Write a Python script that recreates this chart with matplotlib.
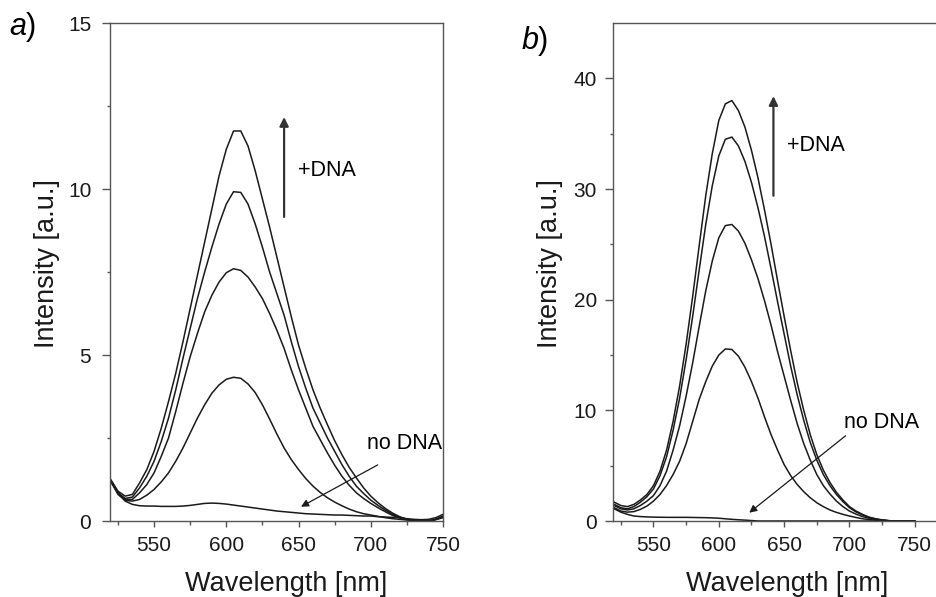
import matplotlib
matplotlib.use("Agg")
import matplotlib.pyplot as plt
from matplotlib.ticker import FixedLocator

plt.rcParams["font.family"] = ["Liberation Sans", "DejaVu Sans"]
plt.rcParams["mathtext.fontset"] = "custom"
plt.rcParams["mathtext.it"] = "Liberation Sans:italic"
plt.rcParams["mathtext.rm"] = "Liberation Sans"

# wavelength grid (nm), 520..750 every 5 nm, shared by all spectra
wl = list(range(520, 755, 5))

# panel a) emission spectra, no DNA -> increasing DNA
a_none = [1.2, 0.85, 0.6, 0.5, 0.46, 0.45, 0.45, 0.44, 0.44, 0.44,
          0.45, 0.47, 0.5, 0.53, 0.54, 0.53, 0.51, 0.48, 0.45, 0.42,
          0.39, 0.36, 0.33, 0.3, 0.28, 0.26, 0.24, 0.22, 0.21, 0.2,
          0.19, 0.18, 0.18, 0.17, 0.16, 0.15, 0.15, 0.13, 0.12, 0.11,
          0.1, 0.07, 0.05, 0.04, 0.05, 0.1, 0.2]
a_1 = [1.2, 0.8, 0.62, 0.6, 0.65, 0.78, 0.95, 1.18, 1.45, 1.8,
       2.2, 2.65, 3.1, 3.5, 3.85, 4.1, 4.27, 4.33, 4.3, 4.13,
       3.87, 3.5, 3.07, 2.62, 2.2, 1.85, 1.55, 1.28, 1.05, 0.86,
       0.7, 0.57, 0.46, 0.36, 0.28, 0.22, 0.18, 0.14, 0.1, 0.07,
       0.05, 0.03, 0.02, 0.01, 0.0, 0.04, 0.1]
a_2 = [1.2, 0.85, 0.65, 0.65, 0.85, 1.1, 1.45, 1.95, 2.5, 3.3,
       4.15, 4.95, 5.65, 6.3, 6.8, 7.2, 7.48, 7.6, 7.55, 7.35,
       7.05, 6.7, 6.25, 5.75, 5.2, 4.55, 3.95, 3.4, 2.85, 2.45,
       2.05, 1.68, 1.35, 1.08, 0.85, 0.68, 0.53, 0.4, 0.28, 0.17,
       0.09, 0.04, 0.02, 0.0, 0.0, 0.05, 0.12]
a_3 = [1.2, 0.85, 0.68, 0.72, 1.0, 1.35, 1.8, 2.4, 3.1, 3.95,
       4.9, 5.8, 6.7, 7.5, 8.25, 8.95, 9.55, 9.92, 9.9, 9.55,
       8.95, 8.25, 7.5, 6.85, 6.2, 5.4, 4.65, 4.0, 3.4, 2.95,
       2.5, 2.1, 1.7, 1.35, 1.05, 0.83, 0.63, 0.47, 0.33, 0.2,
       0.11, 0.05, 0.02, 0.0, 0.0, 0.05, 0.13]
a_4 = [1.25, 0.9, 0.75, 0.8, 1.15, 1.55, 2.1, 2.8, 3.6, 4.45,
       5.4, 6.4, 7.4, 8.4, 9.4, 10.4, 11.2, 11.75, 11.75, 11.3,
       10.55, 9.7, 8.85, 7.95, 7.05, 6.15, 5.3, 4.6, 3.95, 3.4,
       2.9, 2.42, 2.0, 1.62, 1.3, 1.0, 0.75, 0.55, 0.38, 0.24,
       0.13, 0.05, 0.02, 0.0, 0.0, 0.05, 0.15]

# panel b) emission spectra
b_none = [1.1, 0.8, 0.6, 0.45, 0.4, 0.37, 0.35, 0.34, 0.33, 0.33,
          0.33, 0.33, 0.32, 0.31, 0.3, 0.28, 0.25, 0.2, 0.15, 0.11,
          0.08, 0.04, 0.0, 0.0, 0.0, 0.0, 0.0, 0.0, 0.0, 0.0,
          0.0, 0.0, 0.0, 0.0, 0.0, 0.0, 0.0, 0.0, 0.0, 0.0,
          0.0, 0.0, 0.0, 0.0, 0.0, 0.0, 0.0]
b_1 = [1.2, 0.9, 0.8, 0.85, 1.05, 1.35, 1.8, 2.4, 3.2, 4.2,
       5.4, 7.0, 9.0, 11.0, 12.6, 14.0, 15.0, 15.55, 15.5, 14.9,
       13.9, 12.6, 11.1, 9.4, 7.8, 6.4, 5.1, 4.1, 3.3, 2.65,
       2.1, 1.65, 1.3, 1.0, 0.78, 0.6, 0.45, 0.32, 0.2, 0.13,
       0.08, 0.04, 0.02, 0.01, 0.0, 0.0, 0.0]
b_2 = [1.4, 1.1, 1.0, 1.1, 1.4, 1.8, 2.3, 3.2, 4.5, 6.4,
       8.6, 11.3, 14.3, 17.6, 20.8, 23.5, 25.6, 26.7, 26.8, 26.2,
       25.1, 23.6, 21.9, 19.9, 17.7, 15.3, 13.1, 10.9, 8.8, 7.0,
       5.5, 4.2, 3.2, 2.45, 1.8, 1.3, 0.9, 0.62, 0.4, 0.24,
       0.14, 0.07, 0.02, 0.01, 0.0, 0.0, 0.0]
b_3 = [1.5, 1.2, 1.1, 1.3, 1.7, 2.2, 2.9, 4.1, 5.8, 8.2,
       11.1, 14.6, 18.5, 22.7, 26.8, 30.3, 33.0, 34.5, 34.7, 33.9,
       32.5, 30.6, 28.3, 25.7, 22.8, 19.8, 16.9, 14.0, 11.4, 9.1,
       7.1, 5.5, 4.2, 3.2, 2.4, 1.75, 1.2, 0.82, 0.55, 0.32,
       0.18, 0.09, 0.03, 0.01, 0.0, 0.0, 0.0]
b_4 = [1.7, 1.4, 1.3, 1.5, 1.9, 2.4, 3.2, 4.5, 6.4, 9.0,
       12.2, 16.0, 20.3, 24.9, 29.4, 33.2, 36.2, 37.7, 38.0, 37.1,
       35.6, 33.5, 31.0, 28.1, 25.0, 21.7, 18.5, 15.4, 12.5, 10.0,
       7.8, 6.0, 4.6, 3.5, 2.6, 1.9, 1.3, 0.9, 0.6, 0.35,
       0.2, 0.1, 0.03, 0.01, 0.0, 0.0, 0.0]

a_series = [a_none, a_1, a_2, a_3, a_4]
b_series = [b_none, b_1, b_2, b_3, b_4]

x_ticks = [550, 600, 650, 700, 750]
x_minor = [525, 575, 625, 675, 725]
a_yticks = [0, 5, 10, 15]
a_yminor = [2.5, 7.5, 12.5]
b_yticks = [0, 10, 20, 30, 40]
b_yminor = [5, 15, 25, 35]

LINE = "#1a1a1a"
SPINE = "#555555"

fig = plt.figure(figsize=(9.37, 5.97), dpi=100)
ax_a = fig.add_axes([0.1174, 0.1273, 0.3554, 0.834])
ax_b = fig.add_axes([0.6542, 0.1273, 0.3458, 0.834])


def style(ax, xlim, ylim, yticks, yminor, xlab_x, ylab_x, ypad):
    ax.set_xlim(*xlim)
    ax.set_ylim(*ylim)
    ax.set_xticks(x_ticks)
    ax.xaxis.set_minor_locator(FixedLocator(x_minor))
    ax.set_yticks(yticks)
    ax.yaxis.set_minor_locator(FixedLocator(yminor))
    ax.tick_params(which="both", direction="out", colors=SPINE, labelcolor="#1a1a1a",
                   labelsize=15, width=1.0)
    ax.tick_params(axis="x", which="major", length=4.5, pad=6)
    ax.tick_params(axis="x", which="minor", length=3.0)
    ax.tick_params(axis="y", which="major", length=5.5, pad=ypad)
    ax.tick_params(axis="y", which="minor", length=2.5)
    for s in ax.spines.values():
        s.set_color(SPINE)
        s.set_linewidth(1.0)
    ax.set_xlabel("Wavelength [nm]", fontsize=19.5, color="#1a1a1a")
    ax.set_ylabel("Intensity [a.u.]", fontsize=19.5, color="#1a1a1a")
    ax.xaxis.set_label_coords(xlab_x, -0.1)
    ax.yaxis.set_label_coords(ylab_x, 0.518)


for ys in a_series:
    ax_a.plot(wl, ys, color=LINE, lw=1.1)
for ys in b_series:
    ax_b.plot(wl, ys, color=LINE, lw=1.1)

style(ax_a, (519.5, 750), (0, 15), a_yticks, a_yminor, 0.528, -0.15, 8)
style(ax_b, (519, 767), (0, 45), b_yticks, b_yminor, 0.537, -0.155, 6)
ax_b.spines["right"].set_visible(False)

arrow_kw = dict(arrowstyle="-|>", color="#333333", lw=1.6, mutation_scale=13, shrinkA=0, shrinkB=0)
thin_kw = dict(arrowstyle="-|>", color="#1a1a1a", lw=0.9, mutation_scale=11, shrinkA=0, shrinkB=0)

# panel a annotations
ax_a.annotate("", xy=(640, 12.17), xytext=(640, 9.16), arrowprops=arrow_kw)
ax_a.text(649.5, 10.57, "+DNA", fontsize=15.5, va="center", ha="left")
ax_a.annotate("", xy=(651.7, 0.43), xytext=(704.8, 1.69), arrowprops=thin_kw)
ax_a.text(697.4, 2.34, "no DNA", fontsize=15.5, va="center", ha="left")

# panel b annotations
ax_b.annotate("", xy=(641.8, 38.4), xytext=(641.8, 29.4), arrowprops=arrow_kw)
ax_b.text(652.3, 33.9, "+DNA", fontsize=15.5, va="center", ha="left")
ax_b.annotate("", xy=(623.3, 0.75), xytext=(697, 7.7), arrowprops=thin_kw)
ax_b.text(695.8, 8.9, "no DNA", fontsize=15.5, va="center", ha="left")

# panel letters
fig.text(0.010, 1 - 27 / 597, r"$\mathit{a}$)", fontsize=22, va="center", ha="left")
fig.text(0.556, 1 - 41 / 597, r"$\mathit{b}$)", fontsize=22, va="center", ha="left")

fig.savefig("out.png", dpi=100)
